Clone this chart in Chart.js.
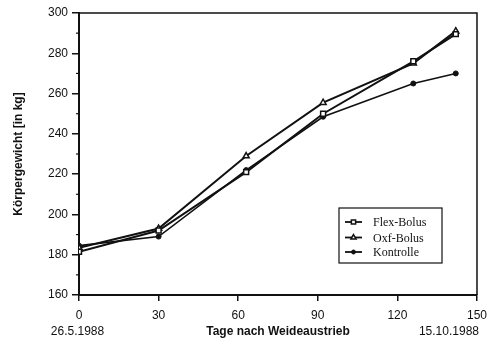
<!DOCTYPE html>
<html>
<head>
<meta charset="utf-8">
<script src="https://cdn.jsdelivr.net/npm/chart.js@4/dist/chart.umd.min.js"></script>
<style>
  html, body { margin: 0; padding: 0; background: #fff; }
  #wrap { width: 494px; height: 341px; }
</style>
</head>
<body>
<div id="wrap"><canvas id="chart" width="494" height="341"></canvas></div>
<script>
// days after pasture turnout
var days = [0, 30, 63, 92, 126, 142];
var flexBolus = [181.5, 192, 221, 250, 276, 289.5];
var oxfBolus = [183.5, 193, 229, 255.5, 275, 291];
var kontrolle = [184.5, 189, 222, 248.5, 265, 270];
var xTicks = [0, 30, 60, 90, 120, 150];
var yTicks = [160, 180, 200, 220, 240, 260, 280, 300];
var startDate = "26.5.1988";
var endDate = "15.10.1988";

function toPoints(vals) {
    return vals.map(function (v, i) { return { x: days[i], y: v }; });
}

// plot frame, minor ticks, date labels, legend box
var extras = {
    id: "extras",
    afterDraw: function (chart) {
        var ctx = chart.ctx;
        var a = chart.chartArea;
        var ys = chart.scales.y;
        var xs = chart.scales.x;
        ctx.save();
        ctx.strokeStyle = "#111";
        ctx.lineWidth = 1.5;
        ctx.beginPath();
        ctx.moveTo(a.left, a.top);
        ctx.lineTo(a.right, a.top);
        ctx.lineTo(a.right, a.bottom);
        ctx.stroke();

        // minor ticks on y axis
        ctx.lineWidth = 1.2;
        for (var v = 170; v < 300; v += 20) {
            var py = ys.getPixelForValue(v);
            ctx.beginPath();
            ctx.moveTo(a.left - 3, py);
            ctx.lineTo(a.left, py);
            ctx.stroke();
        }

        ctx.fillStyle = "#111";
        ctx.font = "12px 'Liberation Sans', Arial, sans-serif";
        ctx.textBaseline = "middle";
        ctx.textAlign = "center";
        ctx.fillText(startDate, xs.getPixelForValue(0) - 1.5, 332);
        ctx.textAlign = "right";
        ctx.fillText(endDate, xs.getPixelForValue(150) + 2, 332);

        // legend
        var bx = 339, by = 208, bw = 103, bh = 55;
        ctx.lineWidth = 1.2;
        ctx.strokeRect(bx, by, bw, bh);
        ctx.font = "12px 'Liberation Serif', 'Times New Roman', serif";
        ctx.textAlign = "left";
        var rowY = [222, 237.5, 252];
        chart.data.datasets.forEach(function (ds, i) {
            var y = rowY[i];
            ctx.strokeStyle = "#111";
            ctx.lineWidth = 1.8;
            ctx.beginPath();
            ctx.moveTo(345, y);
            ctx.lineTo(362, y);
            ctx.stroke();
            ctx.fillStyle = ds.pointBackgroundColor;
            ctx.lineWidth = ds.pointBorderWidth;
            Chart.helpers.drawPoint(ctx, {
                pointStyle: ds.pointStyle,
                radius: ds.pointRadius - 0.5,
                borderWidth: ds.pointBorderWidth
            }, 353.5, y);
            ctx.fillStyle = "#111";
            ctx.fillText(ds.label, 373, y + 1);
        });
        ctx.restore();
    }
};

new Chart(document.getElementById("chart").getContext("2d"), {
    type: "line",
    data: {
        datasets: [
            {
                label: "Flex-Bolus",
                data: toPoints(flexBolus),
                borderColor: "#111",
                borderWidth: 2,
                pointStyle: "rect",
                pointRadius: 3.5,
                pointBorderWidth: 1.5,
                pointBackgroundColor: "#fff",
                pointBorderColor: "#111",
                tension: 0
            },
            {
                label: "Oxf-Bolus",
                data: toPoints(oxfBolus),
                borderColor: "#111",
                borderWidth: 2,
                pointStyle: "triangle",
                pointRadius: 3.5,
                pointBorderWidth: 1.5,
                pointBackgroundColor: "#fff",
                pointBorderColor: "#111",
                tension: 0
            },
            {
                label: "Kontrolle",
                data: toPoints(kontrolle),
                borderColor: "#111",
                borderWidth: 1.6,
                pointStyle: "circle",
                pointRadius: 2.5,
                pointBorderWidth: 1,
                pointBackgroundColor: "#111",
                pointBorderColor: "#111",
                tension: 0
            }
        ]
    },
    options: {
        responsive: false,
        animation: false,
        layout: { padding: { top: 13, right: 13, left: 0, bottom: 0 } },
        plugins: {
            legend: { display: false },
            tooltip: { enabled: false }
        },
        scales: {
            x: {
                type: "linear",
                min: 0,
                max: 150,
                afterBuildTicks: function (scale) {
                    scale.ticks = xTicks.map(function (v) { return { value: v }; });
                },
                afterFit: function (scale) { scale.height = 46; },
                ticks: {
                    color: "#111",
                    padding: 7,
                    font: { family: "'Liberation Sans', Arial, sans-serif", size: 12 }
                },
                grid: { drawOnChartArea: false, drawTicks: true, tickLength: 6, color: "#111", lineWidth: 1.5 },
                border: { display: true, color: "#111", width: 2 },
                title: {
                    display: true,
                    text: "Tage nach Weideaustrieb",
                    color: "#111",
                    padding: { top: 0, bottom: 2 },
                    font: { family: "'Liberation Sans', Arial, sans-serif", size: 12, weight: "bold" }
                }
            },
            y: {
                min: 160,
                max: 300,
                afterBuildTicks: function (scale) {
                    scale.ticks = yTicks.map(function (v) { return { value: v }; });
                },
                afterFit: function (scale) { scale.width = 79; },
                ticks: {
                    color: "#111",
                    padding: 4,
                    font: { family: "'Liberation Sans', Arial, sans-serif", size: 12 }
                },
                grid: { drawOnChartArea: false, drawTicks: true, tickLength: 7, color: "#111", lineWidth: 1.5 },
                border: { display: true, color: "#111", width: 2 },
                title: {
                    display: true,
                    text: "Körpergewicht [in kg]",
                    color: "#111",
                    padding: { top: 11, bottom: 0 },
                    font: { family: "'Liberation Sans', Arial, sans-serif", size: 12, weight: "bold" }
                }
            }
        }
    },
    plugins: [extras]
});
</script>
</body>
</html>
